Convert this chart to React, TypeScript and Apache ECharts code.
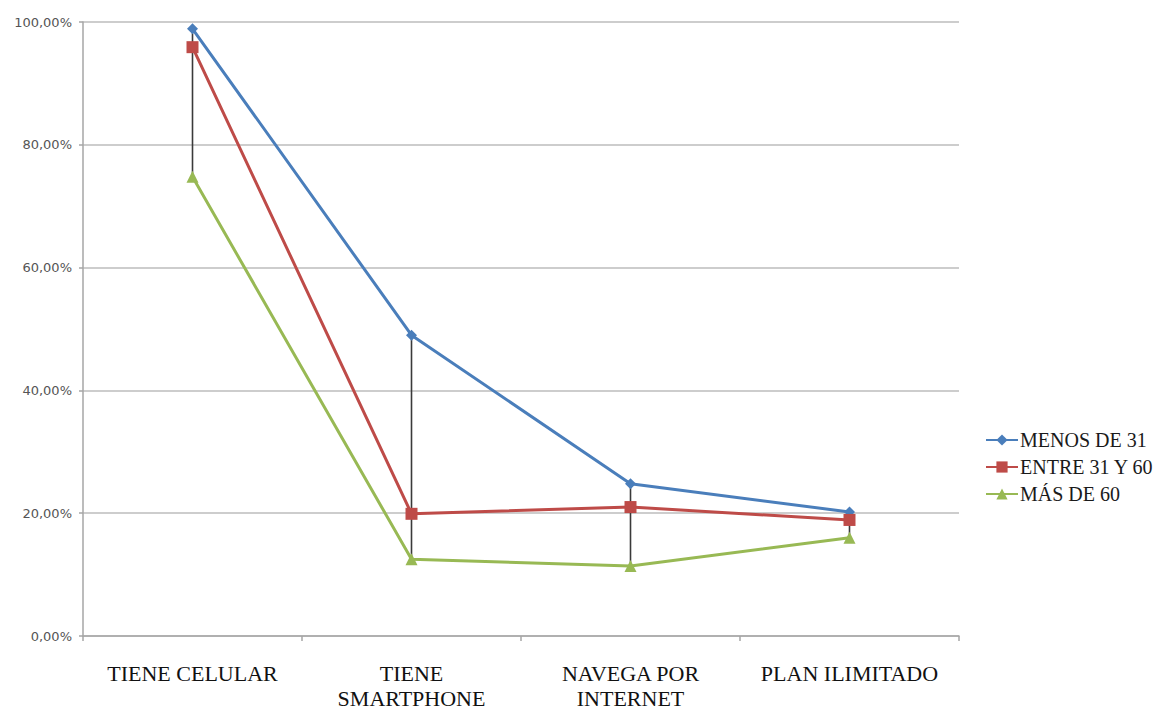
import React, { useEffect, useRef } from "react";
import * as echarts from "echarts";

const categories = ["TIENE CELULAR", "TIENE\nSMARTPHONE", "NAVEGA POR\nINTERNET", "PLAN ILIMITADO"];
const seriesNames = ["MENOS DE 31", "ENTRE 31 Y 60", "MÁS DE 60"];
const menosDe31 = [98.9, 49.0, 24.8, 20.2];
const entre31y60 = [95.9, 19.9, 21.0, 18.9];
const masDe60 = [74.8, 12.5, 11.4, 16.0];
const yTicks = [0, 20, 40, 60, 80, 100];

const colors = ["#4a7ebb", "#be4b48", "#98b954"];
const symbols = ["diamond", "rect", "triangle"];
const symbolSizes = [11, 12, 12];

export default function App() {
  const ref = useRef<HTMLDivElement>(null);
  useEffect(() => {
    if (!ref.current) return;
    const chart = echarts.init(ref.current, null, { renderer: "svg" });
    const all = [menosDe31, entre31y60, masDe60];
    const hiLo = categories.map((_, i) => {
      const vals = all.map((s) => s[i]);
      return [i, Math.min(...vals), Math.max(...vals)];
    });
    chart.setOption({
      animation: false,
      backgroundColor: "#ffffff",
      grid: { left: 83, right: 212, top: 22, bottom: 72, containLabel: false },
      legend: {
        orient: "vertical",
        left: 980,
        top: 425,
        itemGap: 7,
        itemWidth: 32,
        itemHeight: 14,
        data: seriesNames,
        textStyle: { fontFamily: "Liberation Serif", fontSize: 20, color: "#1a1a1a", padding: [0, 0, 0, -3] },
      },
      xAxis: {
        type: "category",
        data: categories,
        boundaryGap: true,
        axisLine: { lineStyle: { color: "#a6a6a6", width: 1.5 } },
        axisTick: { show: true, alignWithLabel: false, length: 5, lineStyle: { color: "#a6a6a6", width: 1.5 } },
        axisLabel: {
          interval: 0,
          margin: 25,
          fontFamily: "Liberation Serif",
          fontSize: 22,
          lineHeight: 25,
          color: "#111111",
        },
        splitLine: { show: false },
      },
      yAxis: {
        type: "value",
        min: 0,
        max: 100,
        interval: 20,
        axisLine: { show: true, lineStyle: { color: "#a6a6a6", width: 1.5 } },
        axisTick: { show: true, length: 4, lineStyle: { color: "#a6a6a6", width: 1.5 } },
        axisLabel: {
          margin: 11,
          fontFamily: "DejaVu Sans",
          fontSize: 13,
          color: "#555555",
          formatter: (v: number) => (yTicks.includes(v) ? v.toFixed(2).replace(".", ",") + "%" : ""),
        },
        splitLine: { show: true, lineStyle: { color: "#bdbdbd", width: 1.6 } },
      },
      series: [
        {
          type: "custom",
          name: "hilo",
          z: 1,
          silent: true,
          data: hiLo,
          renderItem: (params: any, api: any) => {
            const p1 = api.coord([api.value(0), api.value(1)]);
            const p2 = api.coord([api.value(0), api.value(2)]);
            return {
              type: "line",
              shape: { x1: p1[0], y1: p1[1], x2: p2[0], y2: p2[1] },
              style: { stroke: "#3a3a3a", lineWidth: 1.6 },
            };
          },
        },
        ...all.map((d, k) => ({
          type: "line",
          name: seriesNames[k],
          data: d,
          z: 3,
          symbol: symbols[k],
          symbolSize: symbolSizes[k],
          showAllSymbol: true,
          lineStyle: { color: colors[k], width: 3 },
          itemStyle: { color: colors[k] },
        })),
      ],
    });
    return () => chart.dispose();
  }, []);
  return (
    <div
      ref={ref}
      style={{ position: "absolute", left: 0, top: 0, width: 1171, height: 711, background: "#fff" }}
    />
  );
}
